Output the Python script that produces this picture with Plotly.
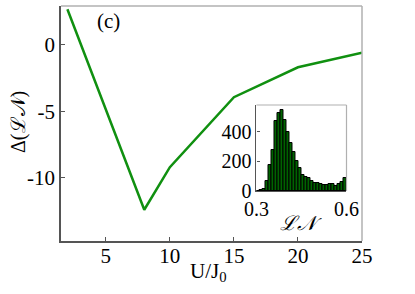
import plotly.graph_objects as go

# Main curve
U = [2, 8, 10, 15, 20, 25]
delta_LN = [2.68, -12.4, -9.2, -3.93, -1.68, -0.58]

# Inset histogram
ln_bins = [0.305 + 0.01 * i for i in range(30)]
counts = [3, 10, 16, 70, 173, 276, 474, 528, 546, 483, 400, 326, 265, 202, 153,
          108, 97, 90, 67, 56, 52, 49, 40, 40, 45, 45, 34, 45, 61, 85]

main_xticks = [5, 10, 15, 20, 25]
main_yticks = [0, -5, -10]
inset_xticks = [0.3, 0.6]
inset_yticks = [0, 200, 400]

FONT = "Liberation Serif"
DARK = "#555555"
LIGHT = "#b0b0b0"

fig = go.Figure()
fig.add_trace(go.Scatter(x=U, y=delta_LN, mode="lines",
                         line=dict(color="#109010", width=2.5),
                         xaxis="x", yaxis="y", showlegend=False))
fig.add_trace(go.Bar(x=ln_bins, y=counts, width=0.01,
                     marker=dict(color="#006400", line=dict(color="black", width=1)),
                     xaxis="x2", yaxis="y2", showlegend=False))

xd = [0.0, 1.0]
yd = [0.0, 1.0]
ixd = [0.6495, 0.9485]
iyd = [0.2128, 0.5787]

fig.update_layout(
    width=415, height=294,
    margin=dict(l=61, r=53, t=6, b=53, autoexpand=False),
    paper_bgcolor="white", plot_bgcolor="white",
    font=dict(family=FONT, size=20, color="black"),
    bargap=0,
    xaxis=dict(domain=xd, range=[1.5, 25], tickvals=main_xticks,
               ticks="inside", ticklen=4, tickcolor=DARK, automargin=False,
               ticklabelstandoff=-5,
               showline=True, linecolor=DARK, linewidth=1.5,
               showgrid=False, zeroline=False,
               tickfont=dict(size=21, family=FONT)),
    yaxis=dict(domain=yd, range=[-14.75, 2.93], tickvals=main_yticks,
               ticktext=["0", "-5", "-10"], automargin=False,
               ticks="inside", ticklen=4, tickcolor=DARK,
               showline=True, linecolor=DARK, linewidth=1.5,
               showgrid=False, zeroline=False,
               tickfont=dict(size=21, family=FONT)),
    xaxis2=dict(domain=ixd, anchor="y2", range=[0.3, 0.6], tickvals=inset_xticks,
                ticktext=["0.3", "0.6"], automargin=False,
                ticks="", showline=True, linecolor=DARK, linewidth=1.2,
                showgrid=False, zeroline=False,
                tickfont=dict(size=20, family=FONT)),
    yaxis2=dict(domain=iyd, anchor="x2", range=[0, 582], tickvals=inset_yticks,
                ticks="inside", ticklen=3, tickcolor=DARK, automargin=False,
                showline=True, linecolor=DARK, linewidth=1.2,
                showgrid=False, zeroline=False,
                tickfont=dict(size=20, family=FONT)),
    shapes=[
        dict(type="line", xref="paper", yref="paper", x0=xd[0], x1=xd[1], y0=1, y1=1,
             line=dict(color=LIGHT, width=1.5)),
        dict(type="line", xref="paper", yref="paper", x0=1, x1=1, y0=0, y1=1,
             line=dict(color=LIGHT, width=1.5)),
        dict(type="line", xref="paper", yref="paper", x0=ixd[0], x1=ixd[1], y0=iyd[1], y1=iyd[1],
             line=dict(color=LIGHT, width=1.2)),
        dict(type="line", xref="paper", yref="paper", x0=ixd[1], x1=ixd[1], y0=iyd[0], y1=iyd[1],
             line=dict(color=LIGHT, width=1.2)),
    ],
    annotations=[
        dict(text="(c)", xref="x", yref="y", x=5.2, y=1.8, showarrow=False,
             font=dict(size=21, family=FONT)),
        dict(text="<i>ℒ𝒩</i>", xref="paper", yref="paper", x=(ixd[0] + ixd[1]) / 2,
             y=(241 - 223) / 235, showarrow=False, xanchor="center", yanchor="middle",
             font=dict(size=20, family=FONT)),
        dict(text="U/J<sub>0</sub>", xref="paper", yref="paper", x=(208 - 61) / 301,
             y=-(272 - 241) / 235, showarrow=False, xanchor="center", yanchor="middle",
             font=dict(size=21, family=FONT)),
        dict(text="Δ(ℒ𝒩)", xref="paper", yref="paper", x=-(61 - 18) / 301,
             y=(241 - 122) / 235, showarrow=False, textangle=-90,
             xanchor="center", yanchor="middle",
             font=dict(size=20, family=FONT)),
    ],
)

fig.write_html("out.html", config={"displayModeBar": False},
               post_script="document.body.style.margin='0';document.body.style.padding='0';")
